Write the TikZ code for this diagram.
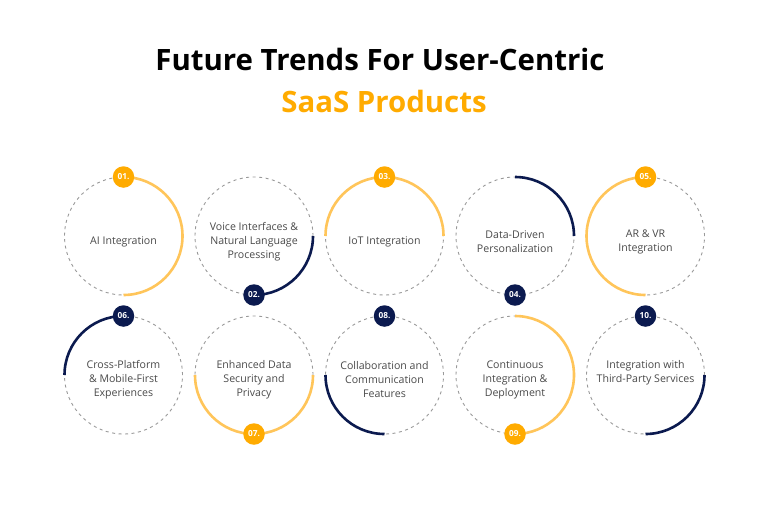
\documentclass[tikz,border=0pt]{standalone}
\usepackage{fontspec}
\setmainfont{Open Sans}
\definecolor{navy}{HTML}{0B1A4F}
\definecolor{orng}{HTML}{FFAB00}
\definecolor{lorng}{HTML}{FFC55A}
\definecolor{dgray}{HTML}{9A9A9A}
\definecolor{txtgray}{HTML}{4A4A4A}
\tikzset{
  ring/.style={circle,draw=dgray,line width=0.9pt,dash pattern=on 3pt off 3.5pt,minimum size=118pt,inner sep=0pt,outer sep=0pt},
  lbl/.style={align=center,text=txtgray,font=\fontsize{10.6}{14}\selectfont},
  arcO/.style={draw=lorng,line width=2.6pt},
  arcN/.style={draw=navy,line width=2.6pt},
  badgeO/.style={circle,fill=orng,minimum size=21.5pt,inner sep=0pt,text=white,font=\fontsize{8.3}{8}\selectfont\bfseries},
  badgeN/.style={circle,fill=navy,minimum size=21.5pt,inner sep=0pt,text=white,font=\fontsize{8.3}{8}\selectfont\bfseries},
  ttl/.style={anchor=base,font=\fontsize{29.4}{32}\selectfont\bfseries}
}
\begin{document}
\begin{tikzpicture}[x=1pt,y=1pt]
\useasboundingbox[fill=white] (0,0) rectangle (768,-509);
\node[ttl,text=black] (t1) at (380,-70) {Future Trends For User-Centric};
\node[ttl,text=orng] (t2) at (384,-112) {SaaS Products};
% rings
\node[ring] (n1) at (123.5,-236) {};
\node[ring] (n2) at (254,-236) {};
\node[ring] (n3) at (384.5,-236) {};
\node[ring] (n4) at (515,-236) {};
\node[ring] (n5) at (645.5,-236) {};
\node[ring] (n6) at (123.5,-375) {};
\node[ring] (n7) at (254,-375) {};
\node[ring] (n8) at (384.5,-375) {};
\node[ring] (n9) at (515,-375) {};
\node[ring] (n10) at (645.5,-375) {};
% arcs
\draw[arcO] (n1.90) arc[start angle=90,end angle=-90,radius=59pt];
\draw[arcN] (n2.270) arc[start angle=270,end angle=360,radius=59pt];
\draw[arcO] (n3.0) arc[start angle=0,end angle=180,radius=59pt];
\draw[arcN] (n4.0) arc[start angle=0,end angle=90,radius=59pt];
\draw[arcO] (n5.90) arc[start angle=90,end angle=270,radius=59pt];
\draw[arcN] (n6.90) arc[start angle=90,end angle=180,radius=59pt];
\draw[arcO] (n7.180) arc[start angle=180,end angle=360,radius=59pt];
\draw[arcN] (n8.180) arc[start angle=180,end angle=270,radius=59pt];
\draw[arcO] (n9.-90) arc[start angle=-90,end angle=90,radius=59pt];
\draw[arcN] (n10.-90) arc[start angle=-90,end angle=0,radius=59pt];
% badges
\node[badgeO] (b1) at (n1.90) {01.};
\node[badgeN] (b2) at (n2.270) {02.};
\node[badgeO] (b3) at (n3.90) {03.};
\node[badgeN] (b4) at (n4.270) {04.};
\node[badgeO] (b5) at (n5.90) {05.};
\node[badgeN] (b6) at (n6.90) {06.};
\node[badgeO] (b7) at (n7.270) {07.};
\node[badgeN] (b8) at (n8.90) {08.};
\node[badgeO] (b9) at (n9.270) {09.};
\node[badgeN] (b10) at (n10.90) {10.};
% labels
\node[lbl] (l1) at ([yshift=-5.5pt]n1.center) {AI Integration};
\node[lbl] (l2) at ([yshift=-5.5pt]n2.center) {Voice Interfaces \&\\Natural Language\\Processing};
\node[lbl] (l3) at ([yshift=-5.5pt]n3.center) {IoT Integration};
\node[lbl] (l4) at ([yshift=-5.5pt]n4.center) {Data-Driven\\Personalization};
\node[lbl] (l5) at ([yshift=-5.5pt]n5.center) {AR \& VR\\Integration};
\node[lbl] (l6) at ([yshift=-4.5pt]n6.center) {Cross-Platform\\\& Mobile-First\\Experiences};
\node[lbl] (l7) at ([yshift=-4.5pt]n7.center) {Enhanced Data\\Security and\\Privacy};
\node[lbl] (l8) at ([yshift=-4.5pt]n8.center) {Collaboration and\\Communication\\Features};
\node[lbl] (l9) at ([yshift=-4.5pt]n9.center) {Continuous\\Integration \&\\Deployment};
\node[lbl] (l10) at ([yshift=2.5pt]n10.center) {Integration with\\Third-Party Services};
\end{tikzpicture}
\end{document}
